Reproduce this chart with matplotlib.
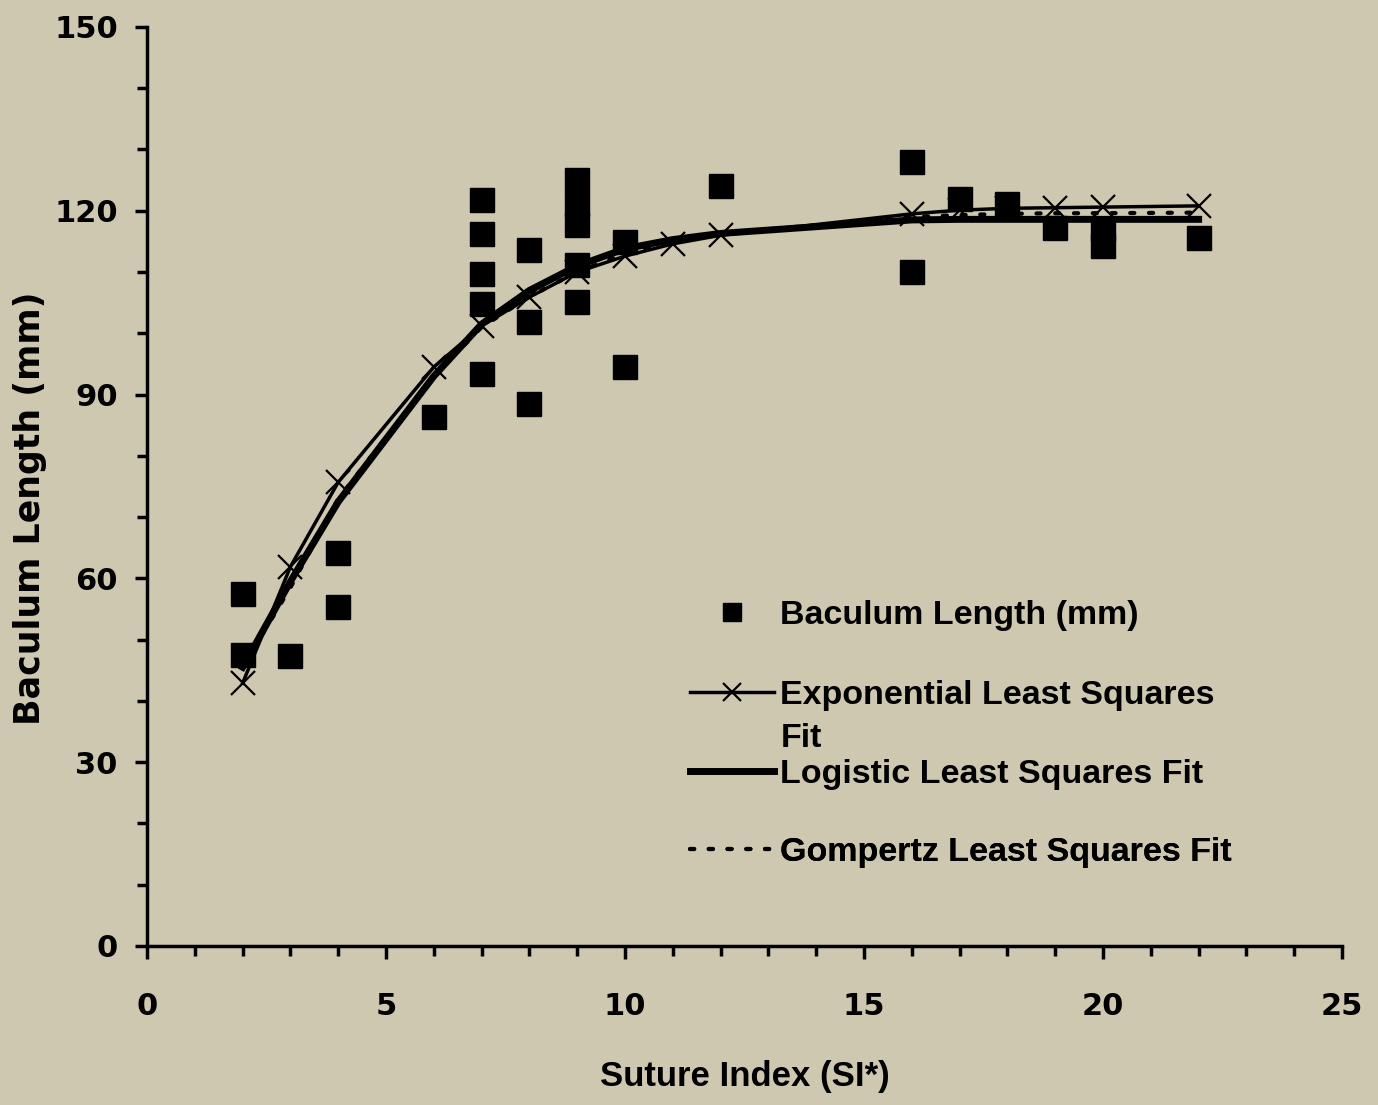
import matplotlib.pyplot as plt
from matplotlib.ticker import MultipleLocator

# measured baculum lengths
suture_index = [2, 2, 3, 4, 4, 6, 7, 7, 7, 7, 7, 8, 8, 8, 9, 9, 9, 9, 9, 10, 10,
                12, 16, 16, 17, 18, 19, 20, 20, 22]
baculum_mm = [57.5, 47.5, 47.3, 64.1, 55.3, 86.3, 121.8, 116.2, 109.7, 104.8, 93.4,
              113.6, 101.8, 88.5, 125.0, 121.1, 117.7, 111.1, 105.1, 114.9, 94.5,
              124.0, 127.9, 110.0, 122.0, 121.1, 117.2, 117.0, 114.3, 115.5]

# fitted curves, evaluated at the observed SI values
fit_x = [2, 3, 4, 6, 7, 8, 9, 10, 11, 12, 16, 17, 18, 19, 20, 22]
expo_fit = [42.9, 61.9, 75.7, 94.5, 101.2, 105.9, 110.0, 112.6, 114.6, 116.0,
            119.5, 120.1, 120.4, 120.5, 120.6, 120.8]
logistic_fit = [45.5, 59.5, 72.5, 93.0, 101.5, 107.0, 111.0, 113.8, 115.3, 116.3,
                118.5, 118.6, 118.6, 118.6, 118.6, 118.6]
gompertz_fit = [45.5, 58.5, 73.0, 93.0, 101.0, 106.0, 110.0, 113.0, 115.0, 116.3,
                119.0, 119.3, 119.5, 119.6, 119.6, 119.7]

bg = '#cec8b1'
narrow = ['Liberation Sans', 'DejaVu Sans']
leg_size = 24.5

fig = plt.figure(figsize=(13.78, 11.05), dpi=100, facecolor=bg)
ax = fig.add_axes([0.1067, 0.1439, 0.8672, 0.8317])
ax.set_facecolor(bg)

pts, = ax.plot(suture_index, baculum_mm, 's', color='black', markersize=17, zorder=3)
expo, = ax.plot(fit_x, expo_fit, '-x', color='black', linewidth=2.5, markersize=17,
                markeredgewidth=1.6, zorder=4)
logi, = ax.plot(fit_x, logistic_fit, '-', color='black', linewidth=5, zorder=4)
gomp, = ax.plot(fit_x, gompertz_fit, color='black', linewidth=3,
                linestyle=(0, (1, 3.5)), dash_capstyle='round', zorder=4)

ax.set_xlim(0, 25)
ax.set_ylim(0, 150)
ax.xaxis.set_major_locator(MultipleLocator(5))
ax.xaxis.set_minor_locator(MultipleLocator(1))
ax.yaxis.set_major_locator(MultipleLocator(30))
ax.yaxis.set_minor_locator(MultipleLocator(10))

for side in ['top', 'right']:
    ax.spines[side].set_visible(False)
for side in ['left', 'bottom']:
    ax.spines[side].set_linewidth(2.5)
ax.tick_params(which='major', length=9, width=2.5, direction='out')
ax.tick_params(which='minor', length=7, width=2.5, direction='out')
ax.tick_params(axis='x', pad=24)
ax.tick_params(axis='y', pad=12)
for lab in ax.get_xticklabels() + ax.get_yticklabels():
    lab.set_fontsize(22)
    lab.set_fontweight('bold')

ax.set_xlabel('Suture Index (SI*)', fontsize=25, fontweight='bold', family=narrow)
ax.xaxis.set_label_coords(0.5, -0.124)
ax.set_ylabel('Baculum Length (mm)', fontsize=25, fontweight='bold')
ax.yaxis.set_label_coords(-0.084, 0.476)

# one legend per row so the rows sit where the original has them
rows = [(pts, 'Baculum Length (mm)', 0.360),
        (expo, 'Exponential Least Squares', 0.273),
        (logi, 'Logistic Least Squares Fit', 0.187),
        (gomp, 'Gompertz Least Squares Fit', 0.1015)]
for handle, text, y in rows:
    leg = ax.legend([handle], [text], loc='center left', bbox_to_anchor=(0.4545, y),
                    frameon=False, prop={'family': narrow, 'weight': 'bold', 'size': leg_size},
                    handlelength=2.45, handletextpad=0.2, borderpad=0,
                    borderaxespad=0, markerscale=0.75)
    ax.add_artist(leg)

# wrapped tail of the exponential label
text_x = 0.4545 + (2.45 + 0.2) * leg_size * 100 / 72 / 1195
ax.text(text_x, 0.2255, 'Fit', transform=ax.transAxes, va='center', ha='left',
        family=narrow, fontweight='bold', fontsize=leg_size)

plt.savefig('out.png', dpi=100, facecolor=bg)
